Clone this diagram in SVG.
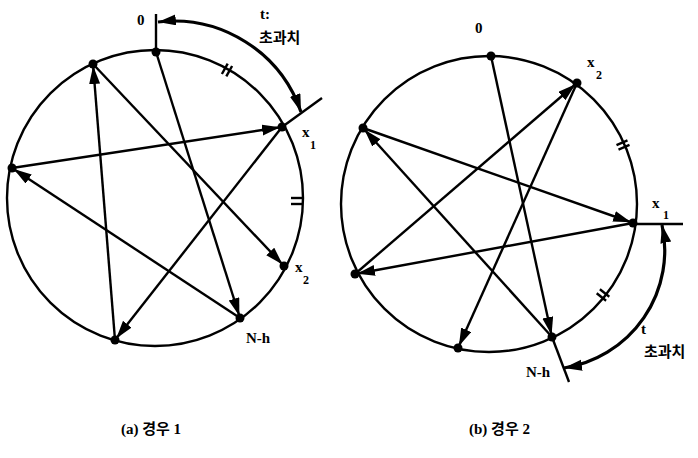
<svg xmlns="http://www.w3.org/2000/svg" width="698" height="458" viewBox="0 0 698 458">
<defs>
<marker id="ah" markerUnits="userSpaceOnUse" markerWidth="24" markerHeight="14" refX="20" refY="5.5" orient="auto"><path d="M0,0 L18,5.5 L0,11 z" fill="#000"/></marker>
<marker id="aa" markerUnits="userSpaceOnUse" markerWidth="24" markerHeight="14" refX="18" refY="5.5" orient="auto-start-reverse"><path d="M0,0 L18,5.5 L0,11 z" fill="#000"/></marker>
</defs>
<style>
.c{fill:none;stroke:#000;stroke-width:2.4}
.e{fill:none;stroke:#000;stroke-width:2.4;marker-end:url(#ah)}
.a{fill:none;stroke:#000;stroke-width:3.2;marker-start:url(#aa);marker-end:url(#aa)}
.k{fill:none;stroke:#000;stroke-width:2.4}
.d{fill:#000}
.t{font-family:"Liberation Serif","Noto Sans CJK KR",serif;font-size:15px;font-weight:bold;fill:#000}
.s{font-family:"Liberation Serif","Noto Sans CJK KR",serif;font-size:12px;font-weight:bold;fill:#000}
.h{font-family:"Liberation Serif","Noto Sans CJK KR",serif;font-size:15px;font-weight:bold;fill:#000}
</style>
<rect width="698" height="458" fill="#fff"/>
<g id="diagram-a">
<circle class="c" cx="155" cy="198" r="148"/>
<line class="k" x1="156" y1="52" x2="156" y2="14"/>
<line class="k" x1="282" y1="127" x2="322" y2="98"/>
<path class="a" d="M158,22 A134.5,134.5 0 0 1 301,112"/>
<line class="k" x1="221.9" y1="74" x2="227.7" y2="63.6"/>
<line class="k" x1="226.3" y1="76.4" x2="232.1" y2="66"/>
<line class="k" x1="291" y1="198" x2="303" y2="198"/>
<line class="k" x1="291" y1="204" x2="303" y2="204"/>
<g id="edges-a">
<line class="e" x1="156" y1="52" x2="240" y2="318"/>
<line class="e" x1="240" y1="318" x2="12" y2="168"/>
<line class="e" x1="12" y1="168" x2="282" y2="127"/>
<line class="e" x1="282" y1="127" x2="115" y2="340"/>
<line class="e" x1="115" y1="340" x2="93" y2="64"/>
<line class="e" x1="93" y1="64" x2="284" y2="266"/>
</g>
<g id="a-n0"><circle class="d" cx="156" cy="52" r="4.5"/><text class="t" x="137" y="25">0</text></g>
<g id="a-tl"><circle class="d" cx="93" cy="64" r="4.5"/></g>
<g id="a-x1"><circle class="d" cx="282" cy="127" r="4.5"/><text class="t" x="302" y="137">x</text><text class="s" x="310" y="149">1</text></g>
<g id="a-l"><circle class="d" cx="12" cy="168" r="4.5"/></g>
<g id="a-x2"><circle class="d" cx="284" cy="266" r="4.5"/><text class="t" x="295" y="272">x</text><text class="s" x="303" y="284">2</text></g>
<g id="a-nh"><circle class="d" cx="240" cy="318" r="4.5"/><text class="t" x="246" y="343">N-h</text></g>
<g id="a-bl"><circle class="d" cx="115" cy="340" r="4.5"/></g>
<text class="t" x="260" y="19">t:</text>
<text class="h" x="259" y="43">초과치</text>
<text class="t" x="121" y="434">(a) 경우 1</text>
</g>
<g id="diagram-b">
<circle class="c" cx="489" cy="204" r="148"/>
<line class="k" x1="633" y1="224" x2="683" y2="224"/>
<line class="k" x1="552" y1="337" x2="569" y2="382"/>
<path class="a" d="M662,225 A119,119 0 0 1 564,368"/>
<line class="k" x1="616.5" y1="145.1" x2="627.5" y2="140.3"/>
<line class="k" x1="618.5" y1="149.7" x2="629.5" y2="144.9"/>
<line class="k" x1="599.9" y1="289.3" x2="609.3" y2="296.7"/>
<line class="k" x1="596.7" y1="293.3" x2="606.1" y2="300.7"/>
<g id="edges-b">
<line class="e" x1="491" y1="56" x2="552" y2="337"/>
<line class="e" x1="577" y1="83" x2="458" y2="348"/>
<line class="e" x1="363" y1="128" x2="633" y2="223"/>
<line class="e" x1="633" y1="223" x2="355" y2="274"/>
<line class="e" x1="355" y1="274" x2="577" y2="83"/>
<line class="e" x1="552" y1="337" x2="363" y2="128"/>
</g>
<g id="b-n0"><circle class="d" cx="491" cy="56" r="4.5"/><text class="t" x="475" y="33">0</text></g>
<g id="b-x2"><circle class="d" cx="577" cy="83" r="4.5"/><text class="t" x="587" y="67">x</text><text class="s" x="596" y="79">2</text></g>
<g id="b-lt"><circle class="d" cx="363" cy="128" r="4.5"/></g>
<g id="b-x1"><circle class="d" cx="633" cy="223" r="4.5"/><text class="t" x="652" y="208">x</text><text class="s" x="663" y="219">1</text></g>
<g id="b-lb"><circle class="d" cx="355" cy="274" r="4.5"/></g>
<g id="b-nh"><circle class="d" cx="552" cy="337" r="4.5"/><text class="t" x="526" y="377">N-h</text></g>
<g id="b-bt"><circle class="d" cx="458" cy="348" r="4.5"/></g>
<text class="t" x="641" y="334">t</text>
<text class="h" x="644" y="357">초과치</text>
<text class="t" x="469" y="434">(b) 경우 2</text>
</g>
</svg>
